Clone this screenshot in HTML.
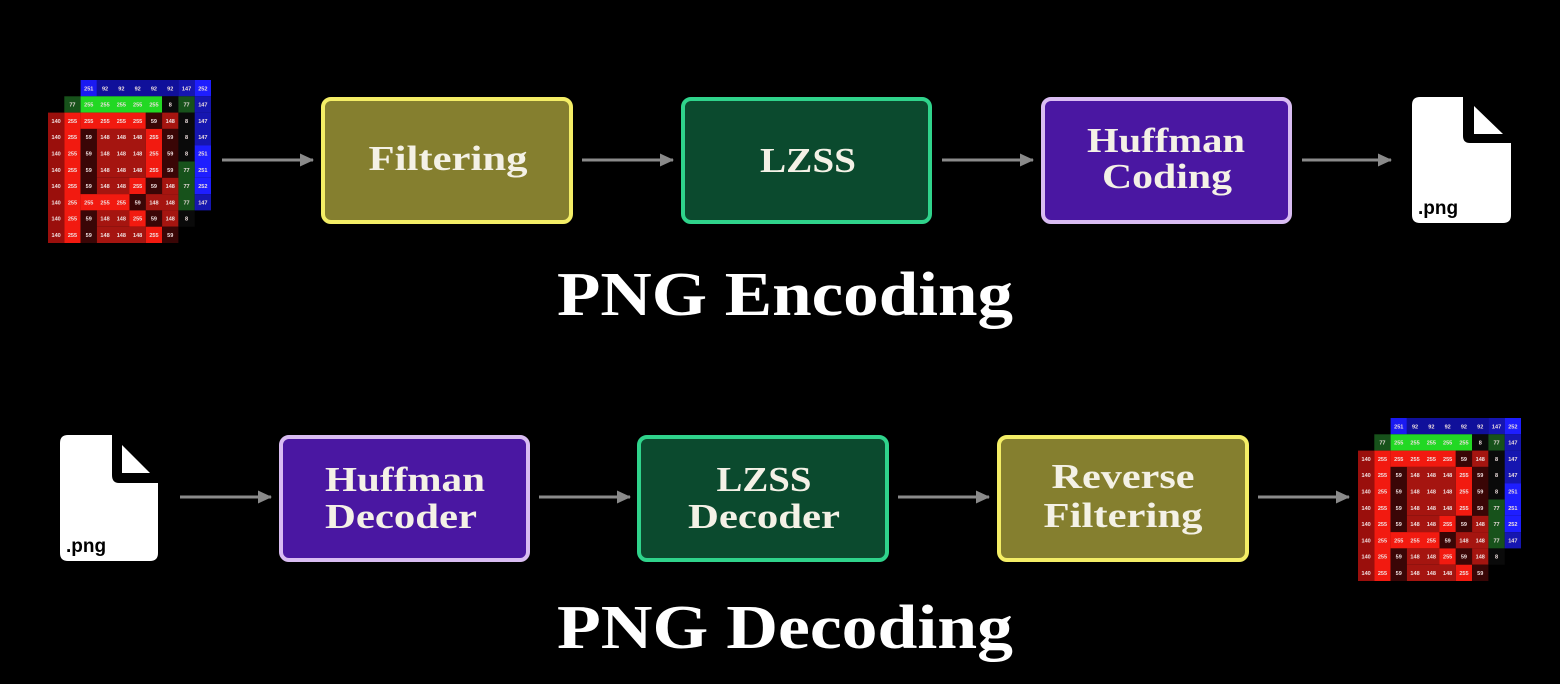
<!DOCTYPE html>
<html><head><meta charset="utf-8"><style>
html,body{margin:0;padding:0;background:#000;}
svg{display:block}
.t{font-family:"Liberation Serif",serif;font-weight:bold;fill:#f4f1e6;text-anchor:middle}
.c{font-family:"Liberation Sans",sans-serif;font-size:3.4px;font-weight:bold;fill:#f0e0e0;text-anchor:middle}
.A{fill:#9a0f0c}.B{fill:#f21a10}.C{fill:#3a0606}.D{fill:#a51510}.K{fill:#0a0a0a}.G{fill:#17521b}.H{fill:#22d824}.N{fill:#10109a}.M{fill:#1a1af2}.P{fill:#1616b0}.Q{fill:#1e1eff}
</style></head><body>
<svg width="1560" height="684" viewBox="0 0 1560 684" xmlns="http://www.w3.org/2000/svg">
<rect width="1560" height="684" fill="#000"/>
<defs><marker id="ar" markerWidth="14" markerHeight="14" refX="13" refY="7" orient="auto" markerUnits="userSpaceOnUse"><path d="M0,0.5 L14,7 L0,13.5 z" fill="#8a8a8a"/></marker></defs>

<!-- grid 1 -->
<g transform="translate(48,80) scale(1.63)">
<rect x="20" y="0" width="10" height="10" class="M"/><rect x="30" y="0" width="50" height="10" class="N"/><rect x="80" y="0" width="10" height="10" class="P"/><rect x="90" y="0" width="10" height="10" class="Q"/>
<rect x="10" y="10" width="10" height="10" class="G"/><rect x="20" y="10" width="50" height="10" class="H"/><rect x="70" y="10" width="10" height="10" class="K"/><rect x="80" y="10" width="10" height="10" class="G"/><rect x="90" y="10" width="10" height="10" class="P"/>
<rect x="0" y="20" width="10" height="80" class="A"/><rect x="10" y="20" width="10" height="80" class="B"/>
<rect x="20" y="20" width="40" height="10" class="B"/><rect x="60" y="20" width="10" height="10" class="C"/><rect x="70" y="20" width="10" height="10" class="D"/><rect x="80" y="20" width="10" height="30" class="K"/><rect x="90" y="20" width="10" height="20" class="P"/>
<rect x="20" y="30" width="10" height="40" class="C"/><rect x="30" y="30" width="30" height="30" class="D"/><rect x="60" y="30" width="10" height="30" class="B"/><rect x="70" y="30" width="10" height="30" class="C"/><rect x="90" y="40" width="10" height="20" class="Q"/>
<rect x="80" y="50" width="10" height="30" class="G"/>
<rect x="30" y="60" width="20" height="10" class="D"/><rect x="50" y="60" width="10" height="10" class="B"/><rect x="60" y="60" width="10" height="10" class="C"/><rect x="70" y="60" width="10" height="10" class="D"/><rect x="90" y="60" width="10" height="10" class="Q"/>
<rect x="20" y="70" width="30" height="10" class="B"/><rect x="50" y="70" width="10" height="10" class="C"/><rect x="60" y="70" width="20" height="10" class="D"/><rect x="90" y="70" width="10" height="10" class="P"/>
<rect x="20" y="80" width="10" height="20" class="C"/><rect x="30" y="80" width="20" height="10" class="D"/><rect x="50" y="80" width="10" height="10" class="B"/><rect x="60" y="80" width="10" height="10" class="C"/><rect x="70" y="80" width="10" height="10" class="D"/><rect x="80" y="80" width="10" height="10" class="K"/>
<rect x="30" y="90" width="30" height="10" class="D"/><rect x="60" y="90" width="10" height="10" class="B"/><rect x="70" y="90" width="10" height="10" class="C"/>
<g class="c">
<text x="25" y="6.3">251</text><text x="35" y="6.3">92</text><text x="45" y="6.3">92</text><text x="55" y="6.3">92</text><text x="65" y="6.3">92</text><text x="75" y="6.3">92</text><text x="85" y="6.3">147</text><text x="95" y="6.3">252</text>
<text x="15" y="16.3">77</text><text x="25" y="16.3">255</text><text x="35" y="16.3">255</text><text x="45" y="16.3">255</text><text x="55" y="16.3">255</text><text x="65" y="16.3">255</text><text x="75" y="16.3">8</text><text x="85" y="16.3">77</text><text x="95" y="16.3">147</text>
<text x="5" y="26.3">140</text><text x="15" y="26.3">255</text><text x="25" y="26.3">255</text><text x="35" y="26.3">255</text><text x="45" y="26.3">255</text><text x="55" y="26.3">255</text><text x="65" y="26.3">59</text><text x="75" y="26.3">148</text><text x="85" y="26.3">8</text><text x="95" y="26.3">147</text>
<text x="5" y="36.3">140</text><text x="15" y="36.3">255</text><text x="25" y="36.3">59</text><text x="35" y="36.3">148</text><text x="45" y="36.3">148</text><text x="55" y="36.3">148</text><text x="65" y="36.3">255</text><text x="75" y="36.3">59</text><text x="85" y="36.3">8</text><text x="95" y="36.3">147</text>
<text x="5" y="46.3">140</text><text x="15" y="46.3">255</text><text x="25" y="46.3">59</text><text x="35" y="46.3">148</text><text x="45" y="46.3">148</text><text x="55" y="46.3">148</text><text x="65" y="46.3">255</text><text x="75" y="46.3">59</text><text x="85" y="46.3">8</text><text x="95" y="46.3">251</text>
<text x="5" y="56.3">140</text><text x="15" y="56.3">255</text><text x="25" y="56.3">59</text><text x="35" y="56.3">148</text><text x="45" y="56.3">148</text><text x="55" y="56.3">148</text><text x="65" y="56.3">255</text><text x="75" y="56.3">59</text><text x="85" y="56.3">77</text><text x="95" y="56.3">251</text>
<text x="5" y="66.3">140</text><text x="15" y="66.3">255</text><text x="25" y="66.3">59</text><text x="35" y="66.3">148</text><text x="45" y="66.3">148</text><text x="55" y="66.3">255</text><text x="65" y="66.3">59</text><text x="75" y="66.3">148</text><text x="85" y="66.3">77</text><text x="95" y="66.3">252</text>
<text x="5" y="76.3">140</text><text x="15" y="76.3">255</text><text x="25" y="76.3">255</text><text x="35" y="76.3">255</text><text x="45" y="76.3">255</text><text x="55" y="76.3">59</text><text x="65" y="76.3">148</text><text x="75" y="76.3">148</text><text x="85" y="76.3">77</text><text x="95" y="76.3">147</text>
<text x="5" y="86.3">140</text><text x="15" y="86.3">255</text><text x="25" y="86.3">59</text><text x="35" y="86.3">148</text><text x="45" y="86.3">148</text><text x="55" y="86.3">255</text><text x="65" y="86.3">59</text><text x="75" y="86.3">148</text><text x="85" y="86.3">8</text>
<text x="5" y="96.3">140</text><text x="15" y="96.3">255</text><text x="25" y="96.3">59</text><text x="35" y="96.3">148</text><text x="45" y="96.3">148</text><text x="55" y="96.3">148</text><text x="65" y="96.3">255</text><text x="75" y="96.3">59</text>
</g></g>

<!-- grid 2 -->
<g transform="translate(1358,418) scale(1.63)">
<rect x="20" y="0" width="10" height="10" class="M"/><rect x="30" y="0" width="50" height="10" class="N"/><rect x="80" y="0" width="10" height="10" class="P"/><rect x="90" y="0" width="10" height="10" class="Q"/>
<rect x="10" y="10" width="10" height="10" class="G"/><rect x="20" y="10" width="50" height="10" class="H"/><rect x="70" y="10" width="10" height="10" class="K"/><rect x="80" y="10" width="10" height="10" class="G"/><rect x="90" y="10" width="10" height="10" class="P"/>
<rect x="0" y="20" width="10" height="80" class="A"/><rect x="10" y="20" width="10" height="80" class="B"/>
<rect x="20" y="20" width="40" height="10" class="B"/><rect x="60" y="20" width="10" height="10" class="C"/><rect x="70" y="20" width="10" height="10" class="D"/><rect x="80" y="20" width="10" height="30" class="K"/><rect x="90" y="20" width="10" height="20" class="P"/>
<rect x="20" y="30" width="10" height="40" class="C"/><rect x="30" y="30" width="30" height="30" class="D"/><rect x="60" y="30" width="10" height="30" class="B"/><rect x="70" y="30" width="10" height="30" class="C"/><rect x="90" y="40" width="10" height="20" class="Q"/>
<rect x="80" y="50" width="10" height="30" class="G"/>
<rect x="30" y="60" width="20" height="10" class="D"/><rect x="50" y="60" width="10" height="10" class="B"/><rect x="60" y="60" width="10" height="10" class="C"/><rect x="70" y="60" width="10" height="10" class="D"/><rect x="90" y="60" width="10" height="10" class="Q"/>
<rect x="20" y="70" width="30" height="10" class="B"/><rect x="50" y="70" width="10" height="10" class="C"/><rect x="60" y="70" width="20" height="10" class="D"/><rect x="90" y="70" width="10" height="10" class="P"/>
<rect x="20" y="80" width="10" height="20" class="C"/><rect x="30" y="80" width="20" height="10" class="D"/><rect x="50" y="80" width="10" height="10" class="B"/><rect x="60" y="80" width="10" height="10" class="C"/><rect x="70" y="80" width="10" height="10" class="D"/><rect x="80" y="80" width="10" height="10" class="K"/>
<rect x="30" y="90" width="30" height="10" class="D"/><rect x="60" y="90" width="10" height="10" class="B"/><rect x="70" y="90" width="10" height="10" class="C"/>
<g class="c">
<text x="25" y="6.3">251</text><text x="35" y="6.3">92</text><text x="45" y="6.3">92</text><text x="55" y="6.3">92</text><text x="65" y="6.3">92</text><text x="75" y="6.3">92</text><text x="85" y="6.3">147</text><text x="95" y="6.3">252</text>
<text x="15" y="16.3">77</text><text x="25" y="16.3">255</text><text x="35" y="16.3">255</text><text x="45" y="16.3">255</text><text x="55" y="16.3">255</text><text x="65" y="16.3">255</text><text x="75" y="16.3">8</text><text x="85" y="16.3">77</text><text x="95" y="16.3">147</text>
<text x="5" y="26.3">140</text><text x="15" y="26.3">255</text><text x="25" y="26.3">255</text><text x="35" y="26.3">255</text><text x="45" y="26.3">255</text><text x="55" y="26.3">255</text><text x="65" y="26.3">59</text><text x="75" y="26.3">148</text><text x="85" y="26.3">8</text><text x="95" y="26.3">147</text>
<text x="5" y="36.3">140</text><text x="15" y="36.3">255</text><text x="25" y="36.3">59</text><text x="35" y="36.3">148</text><text x="45" y="36.3">148</text><text x="55" y="36.3">148</text><text x="65" y="36.3">255</text><text x="75" y="36.3">59</text><text x="85" y="36.3">8</text><text x="95" y="36.3">147</text>
<text x="5" y="46.3">140</text><text x="15" y="46.3">255</text><text x="25" y="46.3">59</text><text x="35" y="46.3">148</text><text x="45" y="46.3">148</text><text x="55" y="46.3">148</text><text x="65" y="46.3">255</text><text x="75" y="46.3">59</text><text x="85" y="46.3">8</text><text x="95" y="46.3">251</text>
<text x="5" y="56.3">140</text><text x="15" y="56.3">255</text><text x="25" y="56.3">59</text><text x="35" y="56.3">148</text><text x="45" y="56.3">148</text><text x="55" y="56.3">148</text><text x="65" y="56.3">255</text><text x="75" y="56.3">59</text><text x="85" y="56.3">77</text><text x="95" y="56.3">251</text>
<text x="5" y="66.3">140</text><text x="15" y="66.3">255</text><text x="25" y="66.3">59</text><text x="35" y="66.3">148</text><text x="45" y="66.3">148</text><text x="55" y="66.3">255</text><text x="65" y="66.3">59</text><text x="75" y="66.3">148</text><text x="85" y="66.3">77</text><text x="95" y="66.3">252</text>
<text x="5" y="76.3">140</text><text x="15" y="76.3">255</text><text x="25" y="76.3">255</text><text x="35" y="76.3">255</text><text x="45" y="76.3">255</text><text x="55" y="76.3">59</text><text x="65" y="76.3">148</text><text x="75" y="76.3">148</text><text x="85" y="76.3">77</text><text x="95" y="76.3">147</text>
<text x="5" y="86.3">140</text><text x="15" y="86.3">255</text><text x="25" y="86.3">59</text><text x="35" y="86.3">148</text><text x="45" y="86.3">148</text><text x="55" y="86.3">255</text><text x="65" y="86.3">59</text><text x="75" y="86.3">148</text><text x="85" y="86.3">8</text>
<text x="5" y="96.3">140</text><text x="15" y="96.3">255</text><text x="25" y="96.3">59</text><text x="35" y="96.3">148</text><text x="45" y="96.3">148</text><text x="55" y="96.3">148</text><text x="65" y="96.3">255</text><text x="75" y="96.3">59</text>
</g></g>

<!-- arrows -->
<g stroke="#8a8a8a" stroke-width="3" marker-end="url(#ar)">
<line x1="222" y1="160" x2="313" y2="160"/><line x1="582" y1="160" x2="673" y2="160"/><line x1="942" y1="160" x2="1033" y2="160"/><line x1="1302" y1="160" x2="1391" y2="160"/>
<line x1="180" y1="497" x2="271" y2="497"/><line x1="539" y1="497" x2="630" y2="497"/><line x1="898" y1="497" x2="989" y2="497"/><line x1="1258" y1="497" x2="1349" y2="497"/>
</g>

<!-- boxes top -->
<rect x="323" y="99" width="248" height="123" rx="8" fill="#857f2f" stroke="#f4ee66" stroke-width="4"/>
<rect x="683" y="99" width="247" height="123" rx="8" fill="#0b4a2e" stroke="#2fd38b" stroke-width="4"/>
<rect x="1043" y="99" width="247" height="123" rx="8" fill="#4a17a2" stroke="#d9bcf2" stroke-width="4"/>
<!-- boxes bottom -->
<rect x="281" y="437" width="247" height="123" rx="8" fill="#4a17a2" stroke="#d9bcf2" stroke-width="4"/>
<rect x="639" y="437" width="248" height="123" rx="8" fill="#0b4a2e" stroke="#2fd38b" stroke-width="4"/>
<rect x="999" y="437" width="248" height="123" rx="8" fill="#857f2f" stroke="#f4ee66" stroke-width="4"/>

<g class="t" font-size="35">
<text x="448" y="170" textLength="159" lengthAdjust="spacingAndGlyphs">Filtering</text>
<text x="808" y="172" textLength="96" lengthAdjust="spacingAndGlyphs">LZSS</text>
<text x="1166" y="152" textLength="158" lengthAdjust="spacingAndGlyphs">Huffman</text>
<text x="1167" y="188" textLength="130" lengthAdjust="spacingAndGlyphs">Coding</text>
<text x="405" y="491" textLength="160" lengthAdjust="spacingAndGlyphs">Huffman</text>
<text x="401" y="528" textLength="152" lengthAdjust="spacingAndGlyphs">Decoder</text>
<text x="764" y="491" textLength="95" lengthAdjust="spacingAndGlyphs">LZSS</text>
<text x="764" y="528" textLength="152" lengthAdjust="spacingAndGlyphs">Decoder</text>
<text x="1123" y="488" textLength="143" lengthAdjust="spacingAndGlyphs">Reverse</text>
<text x="1123" y="527" textLength="159" lengthAdjust="spacingAndGlyphs">Filtering</text>
</g>
<g class="t" font-size="62" style="fill:#ffffff">
<text x="785" y="315" textLength="456" lengthAdjust="spacingAndGlyphs">PNG Encoding</text>
<text x="785" y="648" textLength="456" lengthAdjust="spacingAndGlyphs">PNG Decoding</text>
</g>

<!-- png icons -->
<path d="M1420,97 H1463 V136 Q1463,143 1470,143 H1511 V215 Q1511,223 1503,223 H1420 Q1412,223 1412,215 V105 Q1412,97 1420,97 Z" fill="#fff"/>
<path d="M1474,106 V134 H1503 Z" fill="#fff"/>
<text x="1418" y="214" font-family="Liberation Sans,sans-serif" font-weight="bold" font-size="19" fill="#000">.png</text>
<path d="M68,435 H112 V475 Q112,483 119,483 H158 V553 Q158,561 150,561 H68 Q60,561 60,553 V443 Q60,435 68,435 Z" fill="#fff"/>
<path d="M122,445 V473 H150 Z" fill="#fff"/>
<text x="66" y="552" font-family="Liberation Sans,sans-serif" font-weight="bold" font-size="19" fill="#000">.png</text>
</svg>
</body></html>
